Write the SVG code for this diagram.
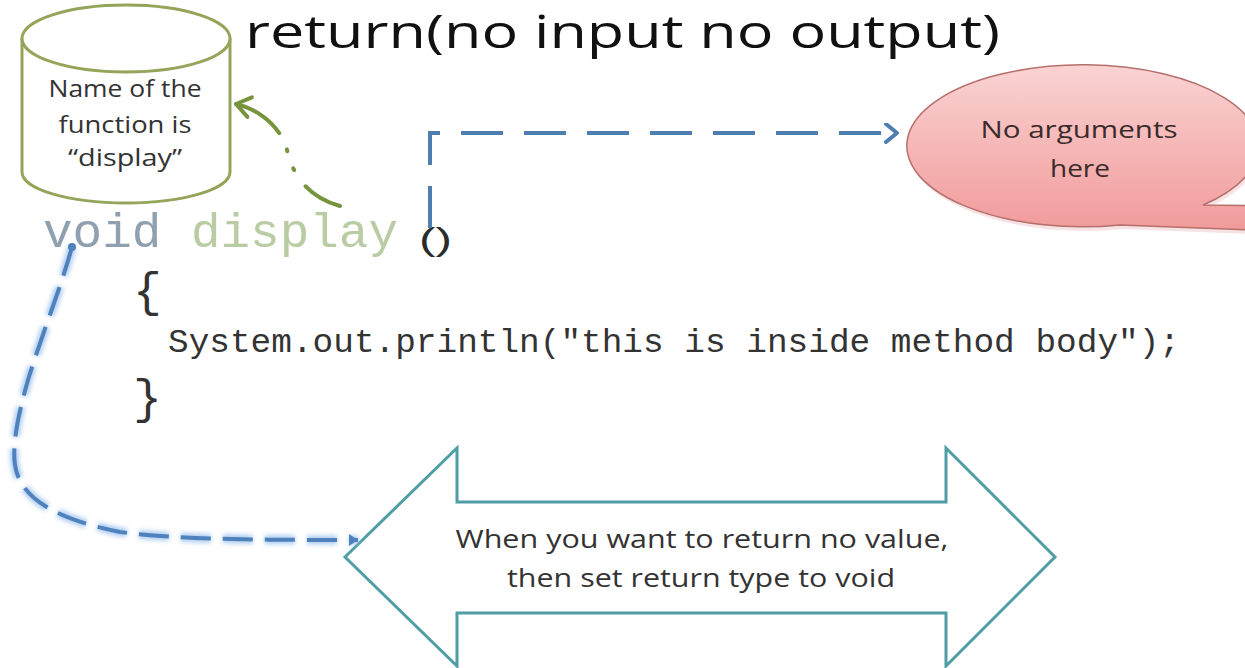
<svg xmlns="http://www.w3.org/2000/svg" width="1245" height="668" viewBox="0 0 1245 668">
  <style>
    .sans { font-family: "Open Sans", "Liberation Sans", Arial, sans-serif; }
    .mono { font-family: "Liberation Mono", "Courier New", monospace; }
    .lbl { fill: #333333; font-size: 23px; text-anchor: middle; }
    .conn { fill: none; stroke-width: 4; }
  </style>
  <defs>
    <linearGradient id="pinkGrad" x1="0" y1="0" x2="0" y2="1">
      <stop offset="0" stop-color="#fad3d3"/>
      <stop offset="1" stop-color="#f19a9a"/>
    </linearGradient>
    <filter id="glow" x="-20%" y="-20%" width="140%" height="140%">
      <feGaussianBlur stdDeviation="2"/>
    </filter>
    <marker id="arrBlue" markerUnits="userSpaceOnUse" markerWidth="20" markerHeight="24" refX="14" refY="10" orient="auto">
      <path d="M3,1 L14,10 L3,19" fill="none" stroke="#4f7fb0" stroke-width="4" stroke-linecap="round" stroke-linejoin="round"/>
    </marker>
    <marker id="arrGreen" markerUnits="userSpaceOnUse" markerWidth="26" markerHeight="26" refX="18" refY="12" orient="auto">
      <path d="M4,2 L18,12 L4,22" fill="none" stroke="#77933c" stroke-width="4" stroke-linecap="round" stroke-linejoin="round"/>
    </marker>
    <marker id="arrBlue2" markerUnits="userSpaceOnUse" markerWidth="16" markerHeight="16" refX="10" refY="7" orient="auto">
      <path d="M1,1 L10,7 L1,13 Z" fill="#4f81bd"/>
    </marker>
  </defs>

  <rect width="1245" height="668" fill="#ffffff"/>

  <g id="title">
    <text class="sans" x="245" y="48" font-size="46" fill="#111111" textLength="755" lengthAdjust="spacingAndGlyphs">return(no input no output)</text>
  </g>

  <g id="cylinder">
    <path d="M22,38 L22,172 A104,31 0 0 0 230,172 L230,38" fill="#ffffff" stroke="#94a55a" stroke-width="3"/>
    <ellipse cx="126" cy="38.5" rx="104" ry="33.5" fill="#ffffff" stroke="#94a55a" stroke-width="3"/>
    <text class="sans lbl" x="125" y="97" textLength="153" lengthAdjust="spacingAndGlyphs">Name of the</text>
    <text class="sans lbl" x="125" y="133" textLength="133" lengthAdjust="spacingAndGlyphs">function is</text>
    <text class="sans lbl" x="125" y="166" textLength="114" lengthAdjust="spacingAndGlyphs">“display”</text>
  </g>

  <g id="code">
    <text class="mono" x="43" y="247" font-size="49" textLength="355" lengthAdjust="spacingAndGlyphs"><tspan fill="#8fa0b0">void</tspan><tspan fill="#b9cca3"> display</tspan></text>
    <text x="419" y="250" font-size="31" fill="#2b2b2b" font-family="Liberation Sans, Arial, sans-serif" textLength="33" lengthAdjust="spacingAndGlyphs">()</text>
    <text class="mono" x="133" y="306" font-size="48" fill="#333333">{</text>
    <text class="mono" x="168" y="352" font-size="33" fill="#333333" textLength="1012" lengthAdjust="spacingAndGlyphs">System.out.println("this is inside method body");</text>
    <text class="mono" x="133" y="413" font-size="48" fill="#333333">}</text>
  </g>

  <g id="bubble">
    <path d="M1203,205 A176,81 0 1 0 1120,225 L1300,232 L1300,206 Z" fill="#e8b0b0" opacity="0.35" transform="translate(2,4)"/>
    <path d="M1203,205 A176,81 0 1 0 1120,225 L1300,232 L1300,206 Z" fill="url(#pinkGrad)" stroke="#b5706c" stroke-width="1.5"/>
    <text class="sans" x="1079" y="138" font-size="24" fill="#3a2b2b" text-anchor="middle" textLength="197" lengthAdjust="spacingAndGlyphs">No arguments</text>
    <text class="sans" x="1080" y="177" font-size="24" fill="#3a2b2b" text-anchor="middle" textLength="60" lengthAdjust="spacingAndGlyphs">here</text>
  </g>

  <g id="double-arrow">
    <polygon points="345,557 457,448 457,502 946,502 946,448 1055,557 946,666 946,613 457,613 457,666" fill="#ffffff" stroke="#4f9ea6" stroke-width="3" stroke-linejoin="miter"/>
    <text class="sans" x="702" y="548" font-size="26" fill="#333333" text-anchor="middle" textLength="493" lengthAdjust="spacingAndGlyphs">When you want to return no value,</text>
    <text class="sans" x="701" y="587" font-size="26" fill="#333333" text-anchor="middle" textLength="388" lengthAdjust="spacingAndGlyphs">then set return type to void</text>
  </g>

  <g id="connectors">
    <path class="conn" d="M430,228 V133 H897" stroke="#4f7fb0" stroke-dasharray="42 21" marker-end="url(#arrBlue)"/>
    <path class="conn" d="M340,206 C305,196 292,172 287,150 C282,130 262,110 236,104" stroke="#77933c" stroke-linecap="round" stroke-dasharray="40 20 2 18 2 18 60" marker-end="url(#arrGreen)"/>
    <path d="M72,247 C60,290 40,340 28,380 C18,415 12,445 15,465 C20,500 60,520 120,532 C180,540 280,540 358,540" fill="none" stroke="#9cc2ee" stroke-width="9" stroke-dasharray="30 12" filter="url(#glow)" opacity="0.8"/>
    <path class="conn" d="M72,247 C60,290 40,340 28,380 C18,415 12,445 15,465 C20,500 60,520 120,532 C180,540 280,540 358,540" stroke="#4f81bd" stroke-dasharray="30 12" marker-end="url(#arrBlue2)"/>
    <circle cx="72" cy="247" r="4" fill="#4f81bd"/>
  </g>
</svg>
